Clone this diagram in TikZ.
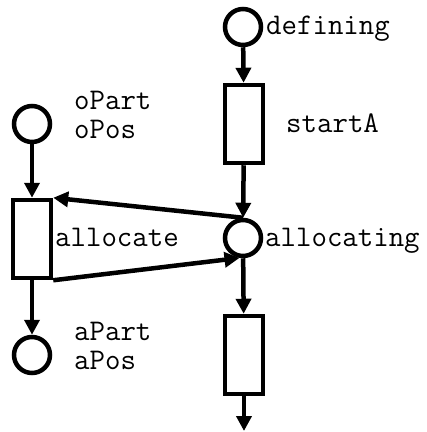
\documentclass[tikz,border=0pt]{standalone}
\usepackage{fontspec}
\usepackage{tikz}
\usetikzlibrary{arrows.meta,positioning}

\tikzset{
  place/.style={draw,circle,line width=4.5pt,minimum size=36pt,inner sep=0pt},
  transition/.style={draw,rectangle,line width=4.5pt,minimum width=38pt,minimum height=78pt,inner sep=0pt},
  lbl/.style={font=\ttfamily\fontsize{30}{29}\selectfont,inner sep=0pt,anchor=base west,align=left},
  arc/.style={line width=4.5pt,-{Triangle[length=15pt,width=15pt]}}
}

\begin{document}
\begin{tikzpicture}[x=1pt,y=-1pt]
			\useasboundingbox (0,0) rectangle (427,432);
			% places and transitions
			\node[place] (defining) at (243,27) {};
			\node[transition] (startA) at (244,124) {};
			\node[place] (allocating) at (243,238) {};
			\node[transition] (next) at (244,355) {};
			\node[place] (oPart) at (32,124) {};
			\node[transition] (allocate) at (32,239) {};
			\node[place] (aPart) at (32,355) {};
			\coordinate (out) at (244,431);
			% labels
			\node[lbl] (definingLbl) at (266,34.5) {defining};
			\node[lbl] (startALbl) at (286,132) {startA};
			\node[lbl] (allocatingLbl) at (265,246) {allocating};
			\node[lbl] (allocateLbl) at (55,246) {allocate};
			\node[lbl] (oPartLbl) at (74,138.5) {oPart\\oPos};
			\node[lbl] (aPartLbl) at (74,369.5) {aPart\\aPos};
			% arcs
			\draw[arc] (defining) -- (startA);
			\draw[arc] (startA) -- (allocating);
			\draw[arc] (allocating) -- (next);
			\draw[arc] (next) -- (out);
			\draw[arc] (oPart) -- (allocate);
			\draw[arc] (allocate) -- (aPart);
			\draw[arc] (allocating.north) -- (allocate.north east);
			\draw[arc] (allocate.south east) -- (allocating.-100);
		\end{tikzpicture}
\end{document}
